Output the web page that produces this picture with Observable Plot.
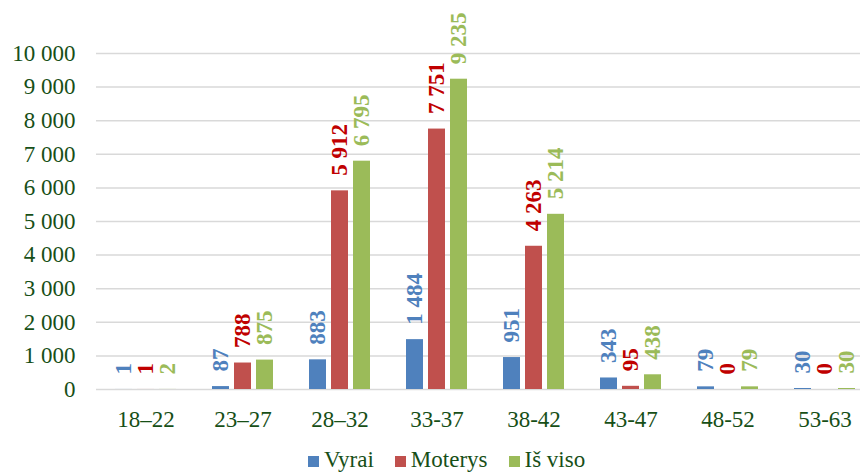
<!DOCTYPE html>
<html>
<head>
<meta charset="utf-8">
<script src="https://cdn.jsdelivr.net/npm/d3@7"></script>
<script src="https://cdn.jsdelivr.net/npm/@observablehq/plot@0.6"></script>
<style>
  body { margin: 0; background: #fff; }
  #wrap { position: relative; width: 860px; height: 472px; overflow: hidden; font-family: "Liberation Serif", "Times New Roman", Times, "DejaVu Serif", serif; }
  #wrap svg, #wrap svg text { font-family: "Liberation Serif", "Times New Roman", Times, "DejaVu Serif", serif !important; }
  #legend { position: absolute; left: 308px; top: 448px; display: flex; align-items: center; font-size: 23px; line-height: 23px; color: #174F17; white-space: nowrap; }
  .item { display: flex; align-items: center; margin-right: 21px; }
  .sw { width: 11px; height: 11px; margin-right: 5px; margin-top: 3px; }
</style>
</head>
<body>
<div id="wrap"></div>
<script>
const categories = ["18–22", "23–27", "28–32", "33-37", "38-42", "43-47", "48-52", "53-63"];
const seriesNames = ["Vyrai", "Moterys", "Iš viso"];
const vyrai = [1, 87, 883, 1484, 951, 343, 79, 30];
const moterys = [1, 788, 5912, 7751, 4263, 95, 0, 0];
const isViso = [2, 875, 6795, 9235, 5214, 438, 79, 30];
const yTicks = [0, 1000, 2000, 3000, 4000, 5000, 6000, 7000, 8000, 9000, 10000];

const barColors = ["#4F81BD", "#C0504D", "#9BBB59"];
const labelColors = ["#4F81BD", "#C00000", "#9BBB59"];
const axisColor = "#174F17";
const serifFont = "'Liberation Serif', 'Times New Roman', Times, 'DejaVu Serif', serif";

const locale = d3.formatLocale({decimal: ",", thousands: "\u00a0", grouping: [3], currency: ["", ""]});
const fmt = locale.format(",d");

const seriesValues = [vyrai, moterys, isViso];
const tables = seriesValues.map((vals, s) =>
  categories.map((c, i) => ({category: c, series: seriesNames[s], value: vals[i]}))
);

// bar geometry within a category band (step 97): bars 17 wide, 22 apart
const step = 97, barW = 17, barStep = 22;
const marks = [Plot.ruleY(yTicks, {stroke: "#D9D9D9", strokeWidth: 1.5})];
tables.forEach((data, s) => {
  const off = (s - 1) * barStep;
  marks.push(Plot.barY(data, {
    x: "category", y: "value", fill: barColors[s],
    insetLeft: step / 2 + off - barW / 2,
    insetRight: step / 2 - off - barW / 2
  }));
});
tables.forEach((data, s) => {
  const off = (s - 1) * barStep;
  marks.push(Plot.text(data, {
    x: "category", y: "value", text: d => fmt(d.value),
    dx: off, dy: -15, rotate: -90, textAnchor: "start",
    fill: labelColors[s], fontSize: 23, fontWeight: "bold", fontFamily: serifFont
  }));
});

const chart = Plot.plot({
  width: 860,
  height: 445,
  marginLeft: 96,
  marginRight: 0,
  marginTop: 53,
  marginBottom: 56,
  style: {fontFamily: serifFont, fontSize: "23px", color: axisColor, background: "#fff", overflow: "visible"},
  x: {domain: categories, range: [96.5, 872.5], padding: 0, tickSize: 0, tickPadding: 21, label: null},
  y: {domain: [0, 10000], ticks: yTicks, tickFormat: fmt, tickSize: 0, tickPadding: 21, label: null},
  marks
});

const wrap = document.getElementById("wrap");
wrap.appendChild(chart);

const legend = document.createElement("div");
legend.id = "legend";
seriesNames.forEach((name, s) => {
  const item = document.createElement("div");
  item.className = "item";
  const sw = document.createElement("span");
  sw.className = "sw";
  sw.style.background = barColors[s];
  const label = document.createElement("span");
  label.textContent = name;
  item.appendChild(sw);
  item.appendChild(label);
  legend.appendChild(item);
});
wrap.appendChild(legend);
</script>
</body>
</html>
